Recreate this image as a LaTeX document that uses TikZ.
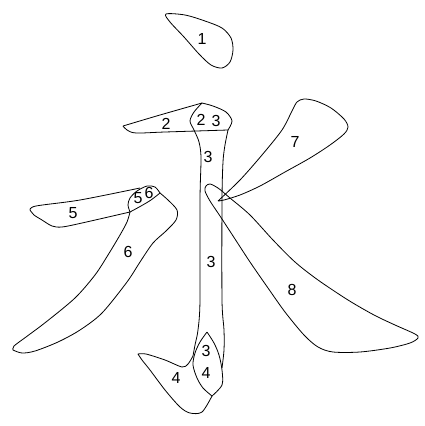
\documentclass[tikz,border=0pt]{standalone}
\usepackage{fontspec}
\setmainfont{Liberation Sans}
\tikzset{
	outline/.style={black,line width=0.8pt,line join=round},
	num/.style={font=\fontsize{16}{16}\selectfont,inner sep=0pt}
}
\begin{document}
\begin{tikzpicture}[x=1pt,y=-1pt]
	\useasboundingbox[fill=white] (0,0) rectangle (424,426);
	% stroke 1: dot
	\draw[outline] plot[smooth cycle] coordinates {(166,14) (185,15) (205,21) (222,28) (231,38) (233,50) (230,62) (222,68) (211,65) (199,54) (184,37) (170,22)};
	% stroke 2 and the cap of stroke 3
	\draw[outline] plot[smooth] coordinates {(123,126) (160,115) (202,103)};
	\draw[outline] plot[smooth] coordinates {(123,126) (127,130) (136,133) (165,132) (228,130)};
	\draw[outline] plot[smooth] coordinates {(202,103) (213,106) (226,112) (232,121) (228,130)};
	% stroke 3: left and right edges
	\draw[outline] plot[smooth] coordinates {(202,103) (194,112) (190,121) (194,130) (199,142) (201,158) (200,200) (200,300) (198,330) (195,345) (193,356)};
	\draw[outline] plot[smooth] coordinates {(228,130) (225,145) (223,162) (222,200) (222,300) (224,330) (224,350) (222,368)};
	% stroke 4: hook
	\draw[outline] plot[smooth] coordinates {(193,356) (188,364) (182,367) (165,360) (146,354) (138,354)}
		-- plot[smooth] coordinates {(138,354) (142,360) (150,370) (165,390) (180,407) (190,413) (202,412) (212,396)};
	\draw[outline] plot[smooth] coordinates {(207,332) (200,342) (195,353) (193,365) (197,378) (203,388) (212,396)};
	\draw[outline] plot[smooth] coordinates {(207,332) (214,343) (219,355) (222,370) (222,385) (212,396)};
	% stroke 5 and its cap
	\draw[outline] plot[smooth] coordinates {(140,188) (80,200) (36,206) (30,210)}
		-- plot[smooth] coordinates {(30,210) (34,215) (42,220) (52,226) (62,227) (82,223) (130,212)};
	\draw[outline] plot[smooth] coordinates {(130,212) (128,205) (130,198) (137,191) (147,186) (155,187) (160,193)};
	\draw[outline] plot[smooth] coordinates {(130,212) (141,206) (151,200) (160,193)};
	% stroke 6
	\draw[outline] plot[smooth] coordinates {(160,193) (168,200) (177,210) (176,220) (166,231) (153,243) (140,262) (127,282) (102,313) (80,330) (58,342) (35,351) (22,353) (13,350)}
		-- plot[smooth] coordinates {(13,350) (14,346) (26,337) (46,322) (75,298) (95,275) (108,255) (120,235) (127,222) (130,212)};
	% stroke 7
	\draw[outline] plot[smooth] coordinates {(218,201) (240,180) (262,155) (282,130) (292,111) (297,102) (304,99) (316,101) (331,108) (344,119) (348,127) (344,134) (330,145) (310,158) (285,172) (260,186) (240,195) (224,200) (218,201)};
	% stroke 8
	\draw[outline] plot[smooth cycle] coordinates {(210,184) (206,186) (205,191) (210,201) (220,216) (235,239) (250,262) (268,288) (285,312) (304,335) (318,347) (333,352) (360,352) (390,348) (410,343) (418,338) (415,334) (395,325) (374,315) (348,300) (318,280) (295,262) (273,240) (250,215) (230,198) (218,188)};
	% stroke numbers
	\node[num] (n1) at (202,39) {1};
	\node[num] (n2a) at (166,124) {2};
	\node[num] (n2b) at (201,120) {2};
	\node[num] (n3a) at (216,121) {3};
	\node[num] (n3b) at (208,157) {3};
	\node[num] (n3c) at (211,262) {3};
	\node[num] (n3d) at (206,351) {3};
	\node[num] (n4a) at (206,373) {4};
	\node[num] (n4b) at (176,378) {4};
	\node[num] (n5a) at (73,213) {5};
	\node[num] (n5b) at (138,198) {5};
	\node[num] (n6a) at (149,193) {6};
	\node[num] (n6b) at (128,252) {6};
	\node[num] (n7) at (295,142) {7};
	\node[num] (n8) at (292,290) {8};
\end{tikzpicture}
\end{document}
